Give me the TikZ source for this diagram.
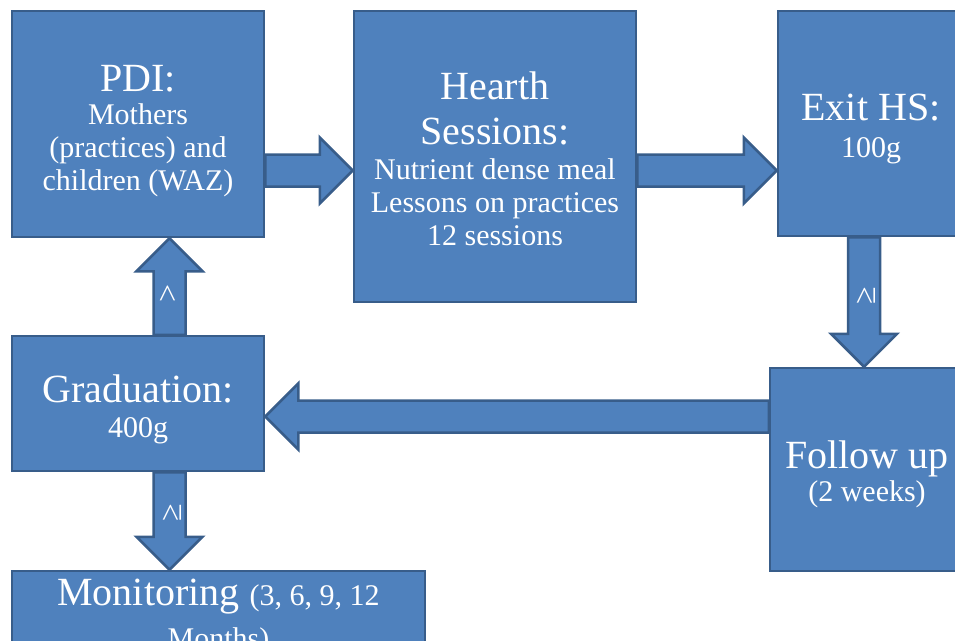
\documentclass[tikz,border=0pt]{standalone}
\usepackage{fontspec}
\setmainfont{Liberation Serif}
\usetikzlibrary{calc}

\definecolor{boxblue}{HTML}{4F81BD}
\definecolor{boxline}{HTML}{385D8A}

\newcommand{\bigtxt}{\fontsize{40}{44}\selectfont}
\newcommand{\smalltxt}{\fontsize{30}{33}\selectfont}

% block arrow from #1 to #2
\newcommand{\fatarrow}[2]{%
  \draw[fatarrow] let \p1=(#1), \p2=(#2),
      \n1={veclen(\x2-\x1,\y2-\y1)}, \n2={atan2(\y2-\y1,\x2-\x1)} in
    [shift={(\p1)}, rotate=\n2]
    (0pt,-16pt) -- (\n1-33pt,-16pt) -- (\n1-33pt,-33pt) -- (\n1,0pt)
    -- (\n1-33pt,33pt) -- (\n1-33pt,16pt) -- (0pt,16pt) -- cycle;}

\begin{document}
\begin{tikzpicture}[x=1pt,y=1pt,
  box/.style={draw=boxline, fill=boxblue, line width=2.5pt, text=white,
    align=center, inner sep=0pt, font=\smalltxt},
  fatarrow/.style={draw=boxline, fill=boxblue, line width=2.5pt, line join=miter},
  arrowlabel/.style={text=white, font=\fontsize{32}{32}\selectfont,
    rotate=90, inner sep=0pt}]

\useasboundingbox (0,0) rectangle (955,-640);
\clip (0,0) rectangle (955,-640);

% boxes
\node[box, minimum width=252, minimum height=226] (pdi) at (138,-124)
  {\rule{0pt}{41pt}\bigtxt PDI:\\ Mothers\\ (practices) and\\ children (WAZ)};
\node[box, minimum width=282, minimum height=291] (hearth) at (495,-156.5)
  {\rule{0pt}{33pt}\bigtxt Hearth\\[12pt] \bigtxt Sessions:\\[2pt] Nutrient dense meal\\
   Lessons on practices\\ 12 sessions};
\node[box, minimum width=186, minimum height=225] (exit) at (871,-123.5)
  {\rule{0pt}{37pt}\bigtxt Exit HS:\\[4pt] 100g};
\node[box, minimum width=252, minimum height=135] (grad) at (138,-403.5)
  {\rule{0pt}{39pt}\bigtxt Graduation:\\[2pt] 400g};
\node[box, minimum width=194, minimum height=203] (follow) at (867,-469.5)
  {\rule{0pt}{37pt}\bigtxt Follow up\\ (2 weeks)};
\node[box, minimum width=413, minimum height=91] (mon) at (218.5,-616.5)
  {\bigtxt Monitoring \smalltxt (3, 6, 9, 12\\[10pt] Months)};

% arrows
\fatarrow{pdi.east |- 0,-170.5}{hearth.west |- 0,-170.5}
\fatarrow{hearth.east |- 0,-170.5}{exit.west |- 0,-170.5}
\fatarrow{exit.south -| 864,0}{follow.north -| 864,0}
\fatarrow{follow.west |- 0,-416.5}{grad.east |- 0,-416.5}
\fatarrow{grad.north -| 169.5,0}{pdi.south -| 169.5,0}
\fatarrow{grad.south -| 169.5,0}{mon.north -| 169.5,0}

% arrow labels
\node[arrowlabel] (lup) at ($(grad.north -| 169.5,0)!0.43!(pdi.south -| 169.5,0)$) {>};
\node[arrowlabel] (ldownhs) at ($(exit.south -| 866,0)!0.45!(follow.north -| 866,0)$) {≥};
\node[arrowlabel] (ldownmon) at ($(grad.south -| 172,0)!0.42!(mon.north -| 172,0)$) {≥};

\end{tikzpicture}
\end{document}
